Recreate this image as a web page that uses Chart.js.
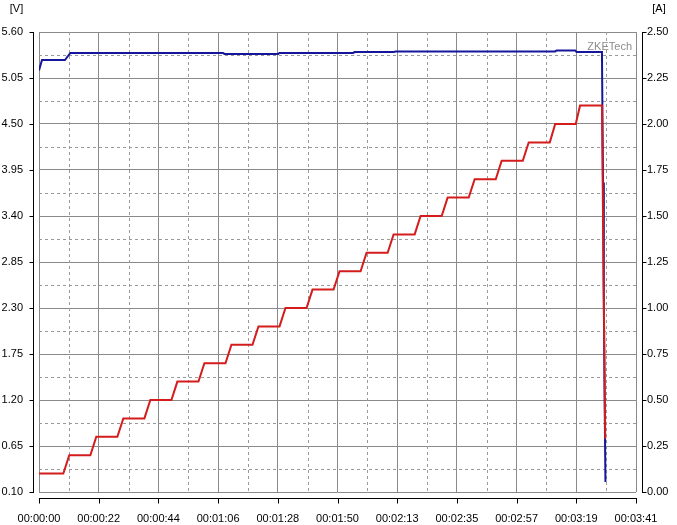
<!DOCTYPE html>
<html>
<head>
<meta charset="utf-8">
<script src="https://cdn.jsdelivr.net/npm/chart.js@4"></script>
<style>
html,body{margin:0;padding:0;background:#fff;}
canvas{display:block;}
</style>
</head>
<body>
<canvas id="c" width="677" height="525"></canvas>
<script>
// ---- data ----
const xTickSec = [0, 22.09, 44.18, 66.27, 88.36, 110.45, 132.54, 154.63, 176.72, 198.81, 220.9];
const xTickLabels = ['00:00:00','00:00:22','00:00:44','00:01:06','00:01:28','00:01:50','00:02:13','00:02:35','00:02:57','00:03:19','00:03:41'];
const vTicks = [0.10, 0.65, 1.20, 1.75, 2.30, 2.85, 3.40, 3.95, 4.50, 5.05, 5.60];
const vTickLabels = ['0.10','0.65','1.20','1.75','2.30','2.85','3.40','3.95','4.50','5.05','5.60'];
const aTicks = [0, 0.25, 0.5, 0.75, 1.0, 1.25, 1.5, 1.75, 2.0, 2.25, 2.5];
const aTickLabels = ['0.00','0.25','0.50','0.75','1.00','1.25','1.50','1.75','2.00','2.25','2.50'];

const voltT = [0, 1.1, 9.6, 11.6, 68.1, 68.6, 88.5, 89.0, 116.3, 116.8, 131.4, 131.9, 191.0, 191.5, 198.4, 198.9, 208.3, 208.7, 209.0, 209.3, 209.6];
const voltV = [5.14, 5.265, 5.265, 5.35, 5.35, 5.338, 5.338, 5.35, 5.35, 5.362, 5.362, 5.368, 5.368, 5.38, 5.38, 5.36, 5.36, 3.80, 2.30, 1.20, 0.22];

const currT = [0, 9.0, 11.2, 19.0, 21.2, 29.0, 31.2, 39.0, 41.2, 49.0, 51.2, 59.0, 61.2, 69.0, 71.2, 79.0, 81.2, 89.0, 91.2, 99.0, 101.2, 109.0, 111.2, 119.0, 121.2, 129.0, 131.2, 139.0, 141.2, 149.0, 151.2, 159.0, 161.2, 169.0, 171.2, 179.0, 181.2, 189.0, 191.0, 198.6, 200.2, 208.3, 208.7, 209.1, 209.5];
const currA = [0.10, 0.10, 0.20, 0.20, 0.30, 0.30, 0.40, 0.40, 0.50, 0.50, 0.60, 0.60, 0.70, 0.70, 0.80, 0.80, 0.90, 0.90, 1.00, 1.00, 1.10, 1.10, 1.20, 1.20, 1.30, 1.30, 1.40, 1.40, 1.50, 1.50, 1.60, 1.60, 1.70, 1.70, 1.80, 1.80, 1.90, 1.90, 2.00, 2.00, 2.10, 2.10, 1.50, 0.90, 0.29];

// ---- chart ----
const FONT = {family: '"Liberation Sans", Arial, sans-serif', size: 11};
const GRID_SOLID = '#8a8a8a';
const GRID_DASH = '#9a9a9a';

const decor = {
  id: 'decor',
  beforeDatasetsDraw(chart) {
    const {ctx, chartArea: a, scales} = chart;
    const x = scales.x, y = scales.yV;
    ctx.save();
    ctx.strokeStyle = GRID_DASH;
    ctx.lineWidth = 1;
    ctx.setLineDash([3, 3]);
    for (let i = 0; i < xTickSec.length - 1; i++) {
      const px = Math.round(x.getPixelForValue((xTickSec[i] + xTickSec[i + 1]) / 2)) + 0.5;
      ctx.beginPath(); ctx.moveTo(px, a.top); ctx.lineTo(px, a.bottom); ctx.stroke();
    }
    for (let i = 0; i < vTicks.length - 1; i++) {
      const py = Math.round(y.getPixelForValue((vTicks[i] + vTicks[i + 1]) / 2)) + 0.5;
      ctx.beginPath(); ctx.moveTo(a.left, py); ctx.lineTo(a.right, py); ctx.stroke();
    }
    ctx.restore();
  },
  afterDraw(chart) {
    const {ctx, chartArea: a, scales} = chart;
    const x = scales.x, yV = scales.yV, yA = scales.yA;
    ctx.save();
    ctx.strokeStyle = '#000';
    ctx.lineWidth = 1;
    // left axis
    const lx = Math.round(a.left) - 6 + 0.5;
    ctx.beginPath(); ctx.moveTo(lx, Math.round(a.top)); ctx.lineTo(lx, Math.round(a.bottom) + 1); ctx.stroke();
    vTicks.forEach(v => {
      const py = Math.round(yV.getPixelForValue(v)) + 0.5;
      ctx.beginPath(); ctx.moveTo(lx - 4, py); ctx.lineTo(lx, py); ctx.stroke();
    });
    // right axis
    const rx = Math.round(a.right) + 6 + 0.5;
    ctx.beginPath(); ctx.moveTo(rx, Math.round(a.top)); ctx.lineTo(rx, Math.round(a.bottom) + 1); ctx.stroke();
    aTicks.forEach(v => {
      const py = Math.round(yA.getPixelForValue(v)) + 0.5;
      ctx.beginPath(); ctx.moveTo(rx, py); ctx.lineTo(rx + 4, py); ctx.stroke();
    });
    // bottom axis
    const by = Math.round(a.bottom) + 6 + 0.5;
    ctx.beginPath(); ctx.moveTo(Math.round(a.left), by); ctx.lineTo(Math.round(a.right) + 1, by); ctx.stroke();
    xTickSec.forEach(v => {
      const px = Math.round(x.getPixelForValue(v)) + 0.5;
      ctx.beginPath(); ctx.moveTo(px, by); ctx.lineTo(px, by + 5); ctx.stroke();
    });
    // unit labels
    ctx.fillStyle = '#000';
    ctx.font = '11px "Liberation Sans", Arial, sans-serif';
    ctx.textAlign = 'center';
    ctx.textBaseline = 'middle';
    ctx.fillText('[V]', 16.5, 9);
    ctx.fillText('[A]', 659, 9);
    // watermark
    ctx.fillStyle = '#8c8c8c';
    ctx.textAlign = 'right';
    ctx.fillText('ZKETech', a.right - 4, 47);
    ctx.restore();
  }
};

new Chart(document.getElementById('c'), {
  type: 'line',
  data: {
    datasets: [
      {
        label: 'Current',
        data: currT.map((t, i) => ({x: t, y: currA[i]})),
        yAxisID: 'yA',
        borderColor: '#d41c1c',
        borderWidth: 2,
        pointRadius: 0,
        tension: 0,
        fill: false,
        order: 0
      },
      {
        label: 'Voltage',
        data: voltT.map((t, i) => ({x: t, y: voltV[i]})),
        yAxisID: 'yV',
        borderColor: '#16169c',
        borderWidth: 2,
        pointRadius: 0,
        tension: 0,
        fill: false,
        order: 1
      }
    ]
  },
  options: {
    responsive: false,
    devicePixelRatio: 1,
    animation: false,
    layout: {autoPadding: false, padding: {top: 32, left: 0, right: 0, bottom: 0}},
    plugins: {legend: {display: false}, tooltip: {enabled: false}},
    scales: {
      x: {
        type: 'linear',
        min: 0,
        max: 220.9,
        afterBuildTicks: s => { s.ticks = xTickSec.map(v => ({value: v})); },
        afterFit: s => { s.height = 33; s.paddingLeft = 0; s.paddingRight = 0; },
        ticks: {
          autoSkip: false, maxRotation: 0, minRotation: 0,
          color: '#000', font: FONT, padding: 20,
          callback: (v, i) => xTickLabels[i]
        },
        grid: {color: GRID_SOLID, lineWidth: 1, drawTicks: false},
        border: {display: false}
      },
      yV: {
        type: 'linear',
        position: 'left',
        min: 0.1,
        max: 5.6,
        afterBuildTicks: s => { s.ticks = vTicks.map(v => ({value: v})); },
        afterFit: s => { s.width = 39; },
        ticks: {
          autoSkip: false, color: '#000', font: FONT, padding: 16,
          callback: (v, i) => vTickLabels[i]
        },
        grid: {color: GRID_SOLID, lineWidth: 1, drawTicks: false},
        border: {display: false}
      },
      yA: {
        type: 'linear',
        position: 'right',
        min: 0,
        max: 2.5,
        afterBuildTicks: s => { s.ticks = aTicks.map(v => ({value: v})); },
        afterFit: s => { s.width = 41; },
        ticks: {
          autoSkip: false, color: '#000', font: FONT, padding: 11,
          callback: (v, i) => aTickLabels[i]
        },
        grid: {drawOnChartArea: false, drawTicks: false},
        border: {display: false}
      }
    }
  },
  plugins: [decor]
});
</script>
</body>
</html>
